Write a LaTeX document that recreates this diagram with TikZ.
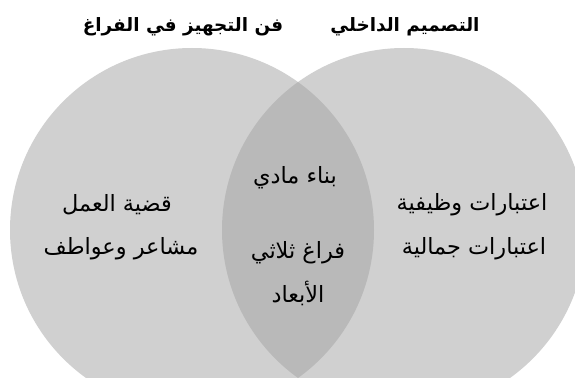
\documentclass[tikz,border=0pt]{standalone}
\usepackage{fontspec}
\newfontfamily\arabicfont[Script=Arabic]{DejaVu Sans}
\TeXXeTstate=1
\definecolor{venngray}{HTML}{D0D0D0}
\definecolor{overlapgray}{HTML}{B9B9B9}
\tikzset{
  set/.style={fill=venngray},
  overlap/.style={fill=overlapgray},
  title/.style={font=\arabicfont\bfseries\fontsize{13.8}{16}\selectfont, inner sep=0pt},
  item/.style={font=\arabicfont\fontsize{16.8}{20}\selectfont, inner sep=0pt}
}

\begin{document}
\begin{tikzpicture}[x=0.75pt, y=-0.75pt]
      \useasboundingbox (0,0) rectangle (575,378);
      \clip (0,0) rectangle (575,378);
      \fill[white] (0,0) rectangle (575,378);

      \fill[set] (192,230) circle (182);
      \fill[set] (404,230) circle (182);
      \begin{scope}
        \clip (192,230) circle (182);
        \fill[overlap] (404,230) circle (182);
      \end{scope}

      \node[title] (design) at (405,27) {\beginR التصميم الداخلي\endR};
      \node[title] (furnish) at (183,27) {\beginR فن التجهيز في الفراغ\endR};

      \node[item] (work) at (117,205) {\beginR قضية العمل\endR};
      \node[item] (feelings) at (121,249) {\beginR مشاعر وعواطف\endR};

      \node[item] (build) at (295,178) {\beginR بناء مادي\endR};
      \node[item] (space) at (298,253) {\beginR فراغ ثلاثي\endR};
      \node[item] (dims) at (298,293) {\beginR الأبعاد\endR};

      \node[item] (func) at (472,205) {\beginR اعتبارات وظيفية\endR};
      \node[item] (aesth) at (474,249) {\beginR اعتبارات جمالية\endR};
    \end{tikzpicture}
\end{document}
